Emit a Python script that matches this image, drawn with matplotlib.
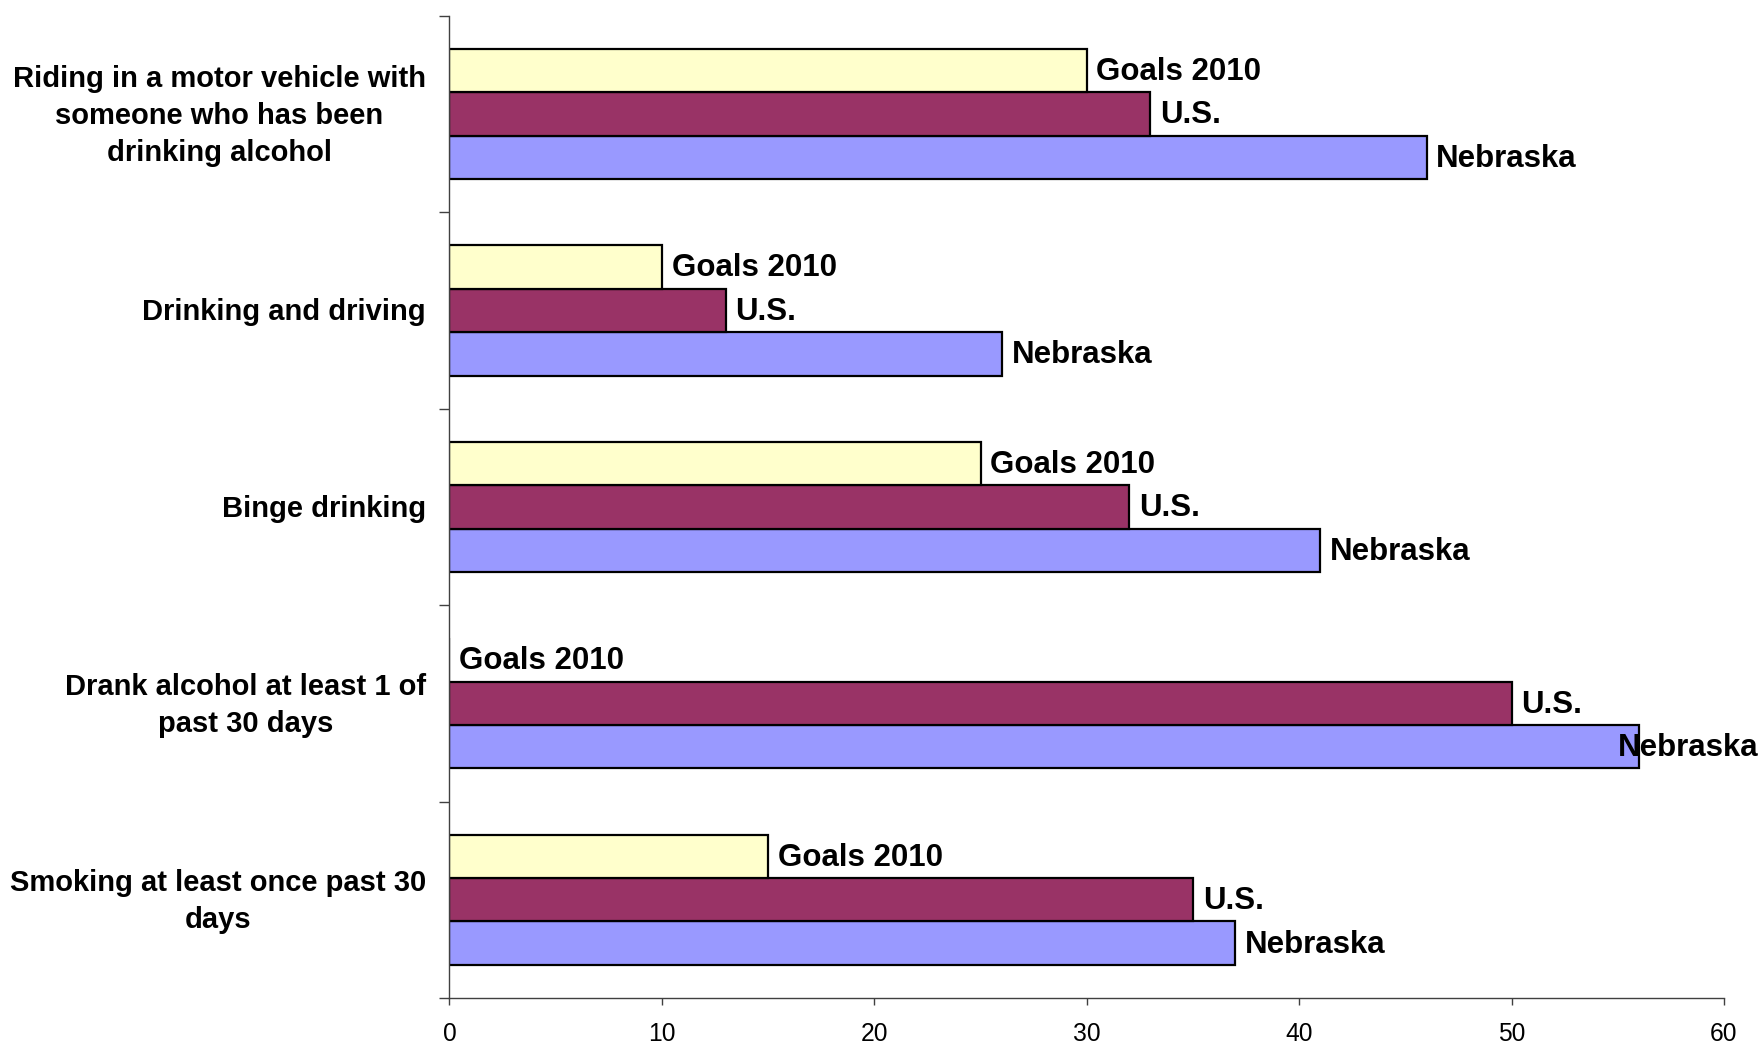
import numpy as np
import matplotlib
matplotlib.use("Agg")
import matplotlib.pyplot as plt
import matplotlib.transforms as mtransforms

plt.rcParams['font.family'] = ['Liberation Sans', 'DejaVu Sans']

# categories listed bottom to top (as the chart draws them)
categories = [
    "Smoking at least once past 30\ndays",
    "Drank alcohol at least 1 of\npast 30 days",
    "Binge drinking",
    "Drinking and driving",
    "Riding in a motor vehicle with\nsomeone who has been\ndrinking alcohol",
]
series_names = ["Nebraska", "U.S.", "Goals 2010"]
nebraska = [37, 56, 41, 26, 46]
us = [35, 50, 32, 13, 33]
goals = [15, 0, 25, 10, 30]
colors = ["#9999FF", "#993366", "#FFFFCC"]
x_ticks = [0, 10, 20, 30, 40, 50, 60]

fig = plt.figure(figsize=(17.62, 10.47), dpi=100)
ax = fig.add_axes([0.2551, 0.0468, 0.9784 - 0.2551, 0.985 - 0.0468])

y = np.arange(len(categories))
h = 0.221
labels = []
for i, (name, vals) in enumerate(zip(series_names, [nebraska, us, goals])):
    pos = y + (i - 1) * h
    ax.barh(pos, vals, height=h, color=colors[i], edgecolor="black", linewidth=1.6, zorder=2)
    for p, v in zip(pos, vals):
        t = ax.annotate(name, xy=(v, p), xytext=(7, -1), textcoords="offset points",
                        ha="left", va="center", fontsize=22.5, fontweight="bold",
                        annotation_clip=False)
        labels.append(t)

ax.set_xlim(0, 60)
ax.set_ylim(-0.5, len(categories) - 0.5)
ax.set_xticks(x_ticks)
ax.set_xticklabels([str(v) for v in x_ticks], fontsize=17.7)
ax.tick_params(axis="x", direction="out", length=5, width=1, color="#404040", pad=12)

# category labels: right aligned block, centred lines
ax.set_yticks(np.arange(-0.5, len(categories), 1.0))
ax.set_yticklabels([])
ax.tick_params(axis="y", direction="out", length=7, width=1, color="#404040")
tr = mtransforms.blended_transform_factory(ax.transAxes, ax.transData) + \
    mtransforms.ScaledTranslation(-17 / 72, -1.5 / 72, fig.dpi_scale_trans)
for yy, cat in zip(y, categories):
    ax.text(0, yy, cat, transform=tr, ha="right", va="center", multialignment="center",
            fontsize=21, fontweight="bold", linespacing=1.42)

for s in ["top", "right"]:
    ax.spines[s].set_visible(False)
for s in ["left", "bottom"]:
    ax.spines[s].set_color("#404040")
    ax.spines[s].set_linewidth(1)

# keep labels inside the figure, like the original
fig.canvas.draw()
r = fig.canvas.get_renderer()
fw = fig.bbox.width
for t in labels:
    bb = t.get_window_extent(r)
    if bb.x1 > fw - 4:
        shift = (bb.x1 - (fw - 4)) * 72 / fig.dpi
        t.set_position((7 - shift, -1))

fig.savefig("out.png", dpi=100)
